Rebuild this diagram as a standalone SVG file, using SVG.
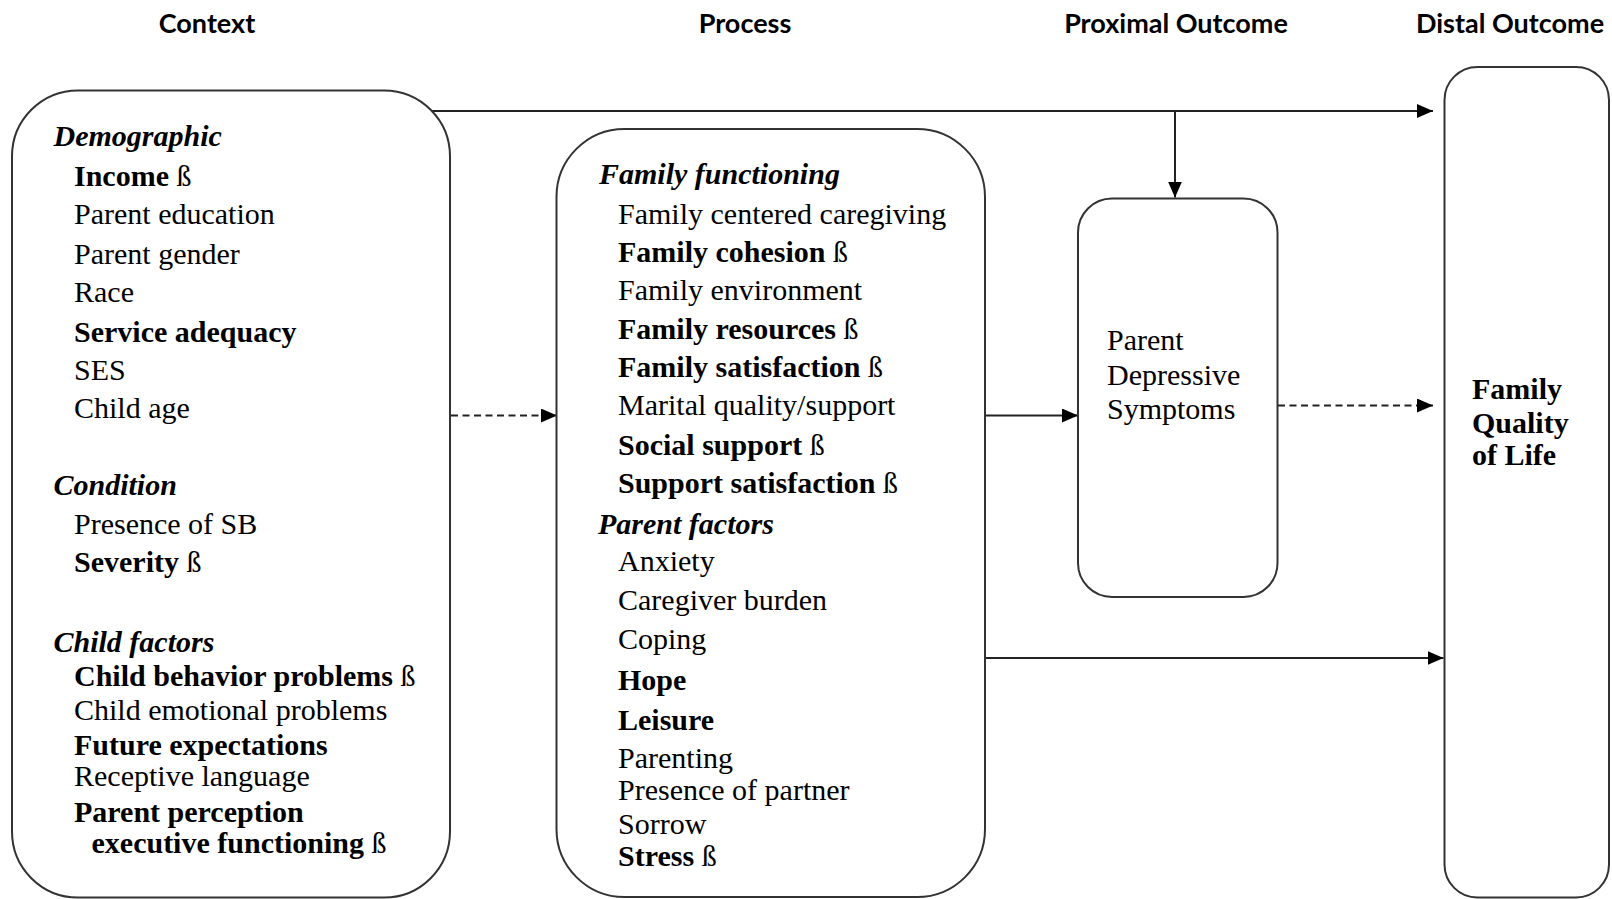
<svg xmlns="http://www.w3.org/2000/svg" width="1612" height="899" viewBox="0 0 1612 899">
  <style>
    .hdr { font-family: "Lato", "Liberation Sans", sans-serif; font-weight: bold; font-size: 27px; fill: #000; text-anchor: middle; }
    .t { font-family: "Liberation Serif", "Times New Roman", serif; font-size: 30px; fill: #000; }
    .b { font-weight: bold; }
    .n { font-weight: normal; }
    .h { font-weight: bold; font-style: italic; }
    .box { fill: #fff; stroke: #333; stroke-width: 2; }
    .line { fill: none; stroke: #222; stroke-width: 2; }
    .dash { stroke-dasharray: 7 4.5; }
  </style>
  <defs>
    <marker id="arrow" viewBox="0 0 16 14" refX="16" refY="7" markerWidth="16" markerHeight="14" markerUnits="userSpaceOnUse" orient="auto">
      <path d="M0,0 L16,7 L0,14 z" fill="#000"/>
    </marker>
  </defs>

  <!-- column headings -->
  <g id="headings">
    <text class="hdr" x="207" y="33">Context</text>
    <text class="hdr" x="745" y="33">Process</text>
    <text class="hdr" x="1176" y="33">Proximal Outcome</text>
    <text class="hdr" x="1510" y="33">Distal Outcome</text>
  </g>

  <!-- connectors -->
  <g id="connectors">
    <path class="line" d="M423,111 H1433" marker-end="url(#arrow)"/>
    <path class="line" d="M1175,111 V197.5" marker-end="url(#arrow)"/>
    <path class="line dash" d="M451,415.5 H557" marker-end="url(#arrow)"/>
    <path class="line" d="M985,415.5 H1078" marker-end="url(#arrow)"/>
    <path class="line dash" d="M1278,405.5 H1433" marker-end="url(#arrow)"/>
    <path class="line" d="M985,658 H1443.5" marker-end="url(#arrow)"/>
  </g>

  <!-- Context -->
  <g id="context">
    <rect class="box" x="12" y="90.5" width="438" height="807" rx="66" ry="66"/>
    <text class="t h" x="53.5" y="146">Demographic</text>
    <text class="t" x="74" y="185.5"><tspan class="b">Income </tspan>ß</text>
    <text class="t" x="74" y="224">Parent education</text>
    <text class="t" x="74" y="263.5">Parent gender</text>
    <text class="t" x="74" y="302">Race</text>
    <text class="t b" x="74" y="341.5">Service adequacy</text>
    <text class="t" x="74" y="379.5">SES</text>
    <text class="t" x="74" y="417.5">Child age</text>
    <text class="t h" x="53.5" y="495">Condition</text>
    <text class="t" x="74" y="533.5">Presence of SB</text>
    <text class="t" x="74" y="572"><tspan class="b">Severity </tspan>ß</text>
    <text class="t h" x="53.5" y="651.5">Child factors</text>
    <text class="t" x="74" y="686"><tspan class="b">Child behavior problems </tspan>ß</text>
    <text class="t" x="74" y="719.5">Child emotional problems</text>
    <text class="t b" x="74" y="754.5">Future expectations</text>
    <text class="t" x="74" y="785.5">Receptive language</text>
    <text class="t b" x="74" y="821.5">Parent perception</text>
    <text class="t" x="91.5" y="852.5"><tspan class="b">executive functioning </tspan>ß</text>
  </g>

  <!-- Process -->
  <g id="process">
    <rect class="box" x="556.5" y="129" width="428.5" height="768" rx="68" ry="68"/>
    <text class="t h" x="599" y="183.5">Family functioning</text>
    <text class="t" x="618" y="223.5">Family centered caregiving</text>
    <text class="t" x="618" y="261.5"><tspan class="b">Family cohesion </tspan>ß</text>
    <text class="t" x="618" y="299.5">Family environment</text>
    <text class="t" x="618" y="339"><tspan class="b">Family resources </tspan>ß</text>
    <text class="t" x="618" y="377"><tspan class="b">Family satisfaction </tspan>ß</text>
    <text class="t" x="618" y="415">Marital quality/support</text>
    <text class="t" x="618" y="455"><tspan class="b">Social support </tspan>ß</text>
    <text class="t" x="618" y="492.5"><tspan class="b">Support satisfaction </tspan>ß</text>
    <text class="t h" x="598" y="533.5">Parent factors</text>
    <text class="t" x="618" y="571">Anxiety</text>
    <text class="t" x="618" y="609.5">Caregiver burden</text>
    <text class="t" x="618" y="649">Coping</text>
    <text class="t b" x="618" y="690">Hope</text>
    <text class="t b" x="618" y="729.5">Leisure</text>
    <text class="t" x="618" y="767.5">Parenting</text>
    <text class="t" x="618" y="800">Presence of partner</text>
    <text class="t" x="618" y="833.5">Sorrow</text>
    <text class="t" x="618" y="865.5"><tspan class="b">Stress </tspan>ß</text>
  </g>

  <!-- Proximal outcome -->
  <g id="proximal">
    <rect class="box" x="1078" y="198.5" width="199.5" height="398.5" rx="34" ry="34"/>
    <text class="t" x="1107" y="350">Parent</text>
    <text class="t" x="1107" y="384.5">Depressive</text>
    <text class="t" x="1107" y="418.5">Symptoms</text>
  </g>

  <!-- Distal outcome -->
  <g id="distal">
    <rect class="box" x="1444.5" y="67" width="164.5" height="830.5" rx="33" ry="33"/>
    <text class="t b" x="1472" y="398.5">Family</text>
    <text class="t b" x="1472" y="432.5">Quality</text>
    <text class="t b" x="1472" y="465">of Life</text>
  </g>
</svg>
